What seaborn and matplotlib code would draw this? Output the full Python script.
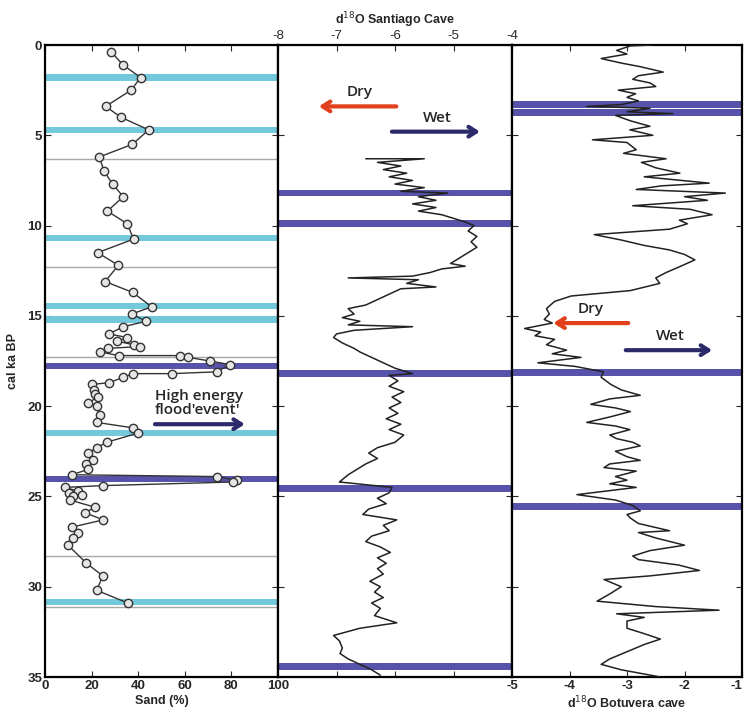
import matplotlib
matplotlib.use("Agg")
import matplotlib.pyplot as plt
import seaborn as sns
import pandas as pd

sns.set_style("ticks")
plt.rcParams["font.family"] = ["Liberation Sans", "DejaVu Sans"]
plt.rcParams["axes.unicode_minus"] = False

# --- sand record (left panel) ---
sand_age = [0.37, 1.1, 1.8, 2.5, 3.4, 4.0, 4.7, 5.5, 6.2, 7.0, 7.7, 8.4, 9.2, 9.9, 10.75,
            11.5, 12.2, 13.1, 13.7, 14.5, 14.9, 15.3, 15.6, 16.0, 16.2, 16.4, 16.6, 16.7,
            16.8, 17.0, 17.2, 17.2, 17.3, 17.5, 17.7, 18.1, 18.2, 18.2, 18.4, 18.7, 18.8,
            19.1, 19.3, 19.5, 19.8, 20.0, 20.5, 20.9, 21.2, 21.5, 22.0, 22.3, 22.6, 23.0,
            23.2, 23.5, 23.8, 23.9, 24.1, 24.2, 24.4, 24.5, 24.7, 24.8, 24.9, 25.0, 25.2,
            25.6, 25.9, 26.3, 26.7, 27.0, 27.3, 27.7, 28.7, 29.4, 30.2, 30.9]
sand_pct = [28.3, 33.5, 41.0, 37.0, 26.0, 32.6, 44.5, 37.5, 23.3, 25.4, 29.0, 33.6, 26.8, 35.3, 38.0,
            22.6, 31.5, 25.8, 37.6, 45.8, 37.2, 43.5, 33.6, 27.4, 35.3, 30.8, 38.0, 40.8,
            27.0, 23.6, 31.7, 57.9, 61.5, 70.8, 79.4, 73.7, 54.3, 37.9, 33.6, 27.6, 20.0,
            21.0, 21.5, 22.9, 18.6, 22.2, 23.6, 22.2, 37.6, 39.7, 26.5, 22.2, 18.6, 20.7,
            17.8, 18.6, 11.5, 73.7, 82.3, 80.9, 25.0, 8.6, 14.0, 10.5, 16.0, 12.0, 10.7,
            21.5, 17.2, 25.0, 11.5, 14.2, 12.2, 9.9, 17.8, 24.8, 22.2, 35.5]

# --- d18O Santiago Cave (middle panel) ---
sant_age = [6.3, 6.3, 6.5, 6.7, 6.9, 7.1, 7.3, 7.5, 7.7, 7.9, 8.1, 8.2, 8.4, 8.6, 8.8, 9.0,
            9.2, 9.4, 9.6, 9.8, 10.0, 10.3, 10.6, 10.9, 11.2, 11.5, 11.8, 12.1, 12.25, 12.4,
            12.6, 12.8, 12.9, 13.0, 13.2, 13.4, 13.5, 13.8, 14.1, 14.4, 14.6, 14.9, 15.1,
            15.3, 15.5, 15.6, 15.8, 16.0, 16.2, 16.5, 16.8, 17.0, 17.3, 17.6, 17.9, 18.2,
            18.3, 18.6, 18.9, 19.2, 19.5, 19.8, 20.1, 20.4, 20.7, 21.0, 21.3, 21.6, 22.0,
            22.3, 22.6, 22.9, 23.2, 23.5, 23.8, 24.2, 24.5, 24.8, 25.1, 25.4, 25.7, 26.0,
            26.3, 26.6, 26.9, 27.2, 27.5, 27.8, 28.1, 28.4, 28.7, 29.0, 29.3, 29.7, 30.0,
            30.3, 30.6, 30.9, 31.2, 31.6, 32.0, 32.3, 32.7, 33.0, 33.4, 33.7, 34.0, 34.3,
            34.6, 34.9]
sant_d18o = [-6.5, -5.5, -6.3, -5.9, -6.2, -5.8, -6.1, -5.7, -6.0, -5.5, -5.9, -5.1, -5.6, -5.3,
             -5.7, -5.3, -5.6, -5.2, -5.0, -4.8, -4.65, -4.75, -4.6, -4.7, -4.6, -4.75, -4.9,
             -5.05, -4.8, -5.2, -5.4, -5.7, -6.8, -5.6, -5.8, -5.3, -5.9, -6.1, -6.3, -6.5,
             -6.8, -6.7, -6.9, -6.6, -6.8, -5.7, -6.7, -7.0, -7.05, -6.9, -6.7, -6.6, -6.4,
             -6.2, -6.0, -5.7, -6.1, -5.95, -6.1, -5.85, -6.05, -5.9, -6.1, -5.95, -6.15,
             -5.9, -6.1, -5.85, -6.0, -6.3, -6.45, -6.3, -6.5, -6.65, -6.8, -6.95, -6.05,
             -6.1, -6.3, -6.15, -6.45, -6.55, -5.97, -6.2, -6.1, -6.4, -6.5, -6.25, -6.08,
             -6.3, -6.15, -6.3, -6.2, -6.43, -6.25, -6.35, -6.2, -6.4, -6.25, -6.35, -5.97,
             -6.6, -7.05, -6.95, -6.9, -6.94, -6.8, -6.6, -6.4, -6.25]

# --- d18O Botuvera cave (right panel) ---
botu_age = [0.0, 0.05, 0.3, 0.5, 0.75, 1.0, 1.2, 1.5, 1.7, 1.9, 2.1, 2.3, 2.5, 2.7, 2.9, 3.1,
            3.3, 3.4, 3.5, 3.7, 3.8, 3.9, 4.2, 4.5, 4.7, 5.0, 5.25, 5.4, 5.8, 6.0, 6.3, 6.5,
            6.8, 7.1, 7.3, 7.65, 7.8, 8.0, 8.2, 8.4, 8.6, 8.9, 9.1, 9.4, 9.7, 9.9, 10.2,
            10.5, 10.8, 11.1, 11.35, 11.6, 11.9, 12.3, 12.6, 12.9, 13.2, 13.6, 13.9, 14.2,
            14.6, 14.9, 15.2, 15.4, 15.7, 15.9, 16.1, 16.3, 16.6, 16.9, 17.1, 17.3, 17.6,
            17.8, 18.1, 18.4, 18.8, 19.1, 19.4, 19.6, 19.9, 20.1, 20.3, 20.6, 20.9, 21.1,
            21.3, 21.6, 21.8, 22.0, 22.2, 22.5, 22.8, 23.0, 23.2, 23.4, 23.6, 23.9, 24.1,
            24.3, 24.5, 24.9, 25.2, 25.5, 25.8, 26.0, 26.2, 26.5, 26.9, 27.0, 27.3, 27.7,
            28.0, 28.3, 28.5, 28.8, 29.1, 29.4, 29.6, 30.0, 30.4, 30.8, 31.1, 31.3, 31.5,
            31.7, 31.9, 32.3, 32.6, 32.9, 33.2, 33.6, 34.0, 34.3, 34.6, 35.0]
botu_d18o = [-2.55, -2.94, -3.18, -3.0, -3.45, -3.1, -2.77, -2.37, -2.8, -2.9, -2.6, -2.5,
             -3.15, -2.85, -3.0, -2.8, -3.1, -3.7, -2.6, -3.0, -2.2, -3.2, -2.94, -2.6, -2.95,
             -2.55, -3.6, -3.0, -2.84, -3.06, -2.32, -2.75, -2.5, -2.08, -2.7, -1.57, -2.4,
             -2.84, -1.29, -2.0, -1.6, -2.9, -1.9, -1.52, -2.09, -1.95, -2.26, -3.57, -3.1,
             -2.7, -2.26, -2.0, -1.82, -2.1, -2.32, -2.5, -2.43, -2.94, -3.97, -4.26, -4.4,
             -4.35, -4.44, -4.3, -4.78, -4.5, -4.6, -4.26, -4.4, -4.05, -4.3, -3.8, -4.55,
             -3.9, -3.41, -3.45, -3.28, -3.1, -2.77, -3.3, -3.63, -3.2, -2.94, -3.3, -3.7,
             -3.2, -2.95, -3.3, -3.18, -2.9, -2.77, -3.2, -3.0, -2.77, -3.3, -3.4, -2.84,
             -3.2, -3.0, -3.3, -2.84, -3.87, -3.2, -2.9, -2.77, -3.0, -2.94, -2.8, -2.26,
             -2.8, -2.5, -2.0, -2.6, -2.9, -2.8, -2.1, -1.74, -2.6, -3.4, -3.1, -3.3, -3.52,
             -2.5, -1.4, -3.18, -2.7, -3.0, -3.0, -2.7, -2.42, -2.7, -3.0, -3.3, -3.45, -3.1,
             -2.42]

# event levels (cal ka BP)
sand_light_bands = [1.8, 4.7, 10.7, 14.45, 15.2, 21.5, 30.85]
sand_dark_bands = [17.8, 24.05]
sand_grey_lines = [6.3, 12.3, 17.3, 28.3, 31.15]
sant_bands = [8.2, 9.9, 18.2, 24.55, 34.4]
botu_bands = [3.3, 3.75, 18.15, 25.55]

LIGHT = "#74c8dc"
DARK = "#5753aa"
NAVY = "#2d2a6c"
RED = "#e2401c"
W, H = 745, 713
TXT = dict(fontsize=11, fontweight="semibold", family=["Open Sans", "DejaVu Sans"])
ARROW = "->,head_length=0.55,head_width=0.35"


def box(x0, x1):
    return [x0 / W, (H - 677) / H, (x1 - x0) / W, 632 / H]


def style_axis(ax):
    for s in ax.spines.values():
        s.set_linewidth(1.6)
        s.set_color("black")
        s.set_visible(True)
    ax.set_ylim(35, 0)
    ax.set_yticks(range(0, 36, 5))
    ax.tick_params(axis="both", direction="in", length=4, width=0.8,
                   top=True, bottom=True, left=True, right=True,
                   labelsize=9.5, pad=2)
    for t in ax.get_xticklabels() + ax.get_yticklabels():
        t.set_fontweight("bold")
    ax.set_xlabel("")
    ax.set_ylabel("")


fig = plt.figure(figsize=(W / 100, H / 100), dpi=100)
ax1 = fig.add_axes(box(45, 278))
ax2 = fig.add_axes(box(278, 512))
ax3 = fig.add_axes(box(512, 742))

# left: sand
for y in sand_light_bands:
    ax1.axhspan(y - 0.18, y + 0.18, color=LIGHT, lw=0, zorder=1)
for y in sand_dark_bands:
    ax1.axhspan(y - 0.17, y + 0.17, color=DARK, lw=0, zorder=1)
for y in sand_grey_lines:
    ax1.axhline(y, color="#a8a8a8", lw=1, zorder=1)
sand_df = pd.DataFrame({"age": sand_age, "sand": sand_pct})
sns.lineplot(data=sand_df, x="sand", y="age", sort=False, estimator=None, ax=ax1,
             color="#333333", lw=1, marker="o", markersize=6,
             markerfacecolor="#e6e6e6", markeredgecolor="#333333",
             markeredgewidth=1, zorder=3)
ax1.set_xlim(0, 100)
ax1.set_xticks(range(0, 101, 20))
style_axis(ax1)
ax1.tick_params(labelleft=True, labelbottom=True, labeltop=False)
ax1.set_xlabel("Sand (%)", fontsize=9, fontweight="bold", labelpad=2)
ax1.set_ylabel("cal ka BP", fontsize=9, fontweight="bold", labelpad=6)
ax1.text(47, 19.8, "High energy\nflood'event'", ha="left", va="center",
         linespacing=1.0, zorder=4, **TXT)
ax1.annotate("", xy=(87, 21.0), xytext=(46, 21.0), zorder=4,
             arrowprops=dict(arrowstyle=ARROW, lw=3, color=NAVY))

# middle: Santiago
for y in sant_bands:
    ax2.axhspan(y - 0.19, y + 0.19, color=DARK, lw=0, zorder=1)
sant_df = pd.DataFrame({"age": sant_age, "d18o": sant_d18o})
sns.lineplot(data=sant_df, x="d18o", y="age", sort=False, estimator=None, ax=ax2,
             color="#222222", lw=1.1, zorder=3)
ax2.set_xlim(-8, -4)
ax2.set_xticks(range(-8, -3))
style_axis(ax2)
ax2.tick_params(labelleft=False, labelbottom=False, labeltop=True)
ax2.xaxis.set_label_position("top")
ax2.set_xlabel("d$^{18}$O Santiago Cave", fontsize=9, fontweight="bold", labelpad=4)
ax2.text(-6.6, 2.6, "Dry", ha="center", va="center", **TXT)
ax2.annotate("", xy=(-7.35, 3.4), xytext=(-5.93, 3.4),
             arrowprops=dict(arrowstyle=ARROW, lw=3, color=RED))
ax2.text(-5.28, 4.05, "Wet", ha="center", va="center", **TXT)
ax2.annotate("", xy=(-4.5, 4.8), xytext=(-6.1, 4.8),
             arrowprops=dict(arrowstyle=ARROW, lw=3, color=NAVY))

# right: Botuvera
for y in botu_bands:
    ax3.axhspan(y - 0.19, y + 0.19, color=DARK, lw=0, zorder=1)
botu_df = pd.DataFrame({"age": botu_age, "d18o": botu_d18o})
sns.lineplot(data=botu_df, x="d18o", y="age", sort=False, estimator=None, ax=ax3,
             color="#222222", lw=1.1, zorder=3)
ax3.set_xlim(-5, -1)
ax3.set_xticks(range(-5, 0))
style_axis(ax3)
ax3.tick_params(labelleft=False, labelbottom=True, labeltop=False)
ax3.get_xticklabels()[-1].set_horizontalalignment("right")
ax3.set_xlabel("d$^{18}$O Botuvera cave", fontsize=9, fontweight="bold", labelpad=2)
ax3.text(-3.63, 14.6, "Dry", ha="center", va="center", **TXT)
ax3.annotate("", xy=(-4.33, 15.4), xytext=(-2.93, 15.4),
             arrowprops=dict(arrowstyle=ARROW, lw=3, color=RED))
ax3.text(-2.25, 16.1, "Wet", ha="center", va="center", **TXT)
ax3.annotate("", xy=(-1.47, 16.9), xytext=(-3.07, 16.9),
             arrowprops=dict(arrowstyle=ARROW, lw=3, color=NAVY))

fig.savefig("out.png", dpi=100)
plt.close(fig)
